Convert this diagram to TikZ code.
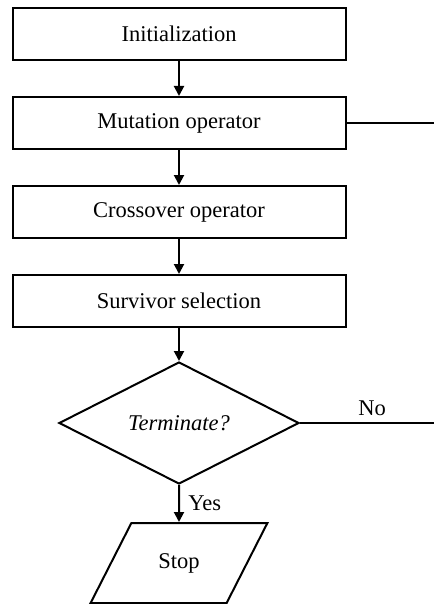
\documentclass[tikz,border=0pt]{standalone}
\usepackage{fontspec}
\setmainfont{Liberation Serif}
\usepackage{tikz}
\usetikzlibrary{arrows.meta,shapes.geometric,positioning}

\begin{document}
\begin{tikzpicture}[
    > = {Triangle[length=10pt,width=10pt]}, % arrow head style
    node distance = 35pt, % distance between nodes
    line width = 2pt, % line style
    font = \fontsize{22.5}{27}\selectfont
    ]

    \tikzset{process/.style={
    draw = black,
    rectangle,
    minimum width = 333pt,
    minimum height = 52pt,
    inner sep = 0pt
    }}
    \tikzset{decision/.style={
    draw = black,
    diamond,
    aspect = 2,
    minimum width = 240pt,
    minimum height = 122pt,
    inner sep = 0pt
    }}
    \tikzset{stopbox/.style={
    draw = black,
    trapezium,
    trapezium left angle = 63,
    trapezium right angle = 117,
    text height = 16pt,
    text depth = 5pt,
    inner xsep = 27pt,
    inner ysep = 29.5pt
    }}

    \useasboundingbox (0,0) rectangle (434pt,-604pt);

    \node[process] (init) at (179pt,-34pt) {Initialization};
    \node[process] (mut) [below=of init] {Mutation operator};
    \node[process] (cross) [below=of mut] {Crossover operator};
    \node[process] (surv) [below=of cross] {Survivor selection};
    \node[decision] (term) [below=33pt of surv] {\textit{Terminate?}};
    \node[stopbox] (stop) [below=37pt of term] {Stop};

    \coordinate (edgeR) at (434pt,0); % right border of the picture

    \path[->] (init) edge (mut);
    \path[->] (mut) edge (cross);
    \path[->] (cross) edge (surv);
    \path[->] (surv) edge (term);
    \path[->] (term) edge node[right=5pt]{Yes} (stop);
    \draw (mut.east) -- (mut.east -| edgeR);
    \draw (term.east) -- node[above=3pt, xshift=5pt]{No} (term.east -| edgeR);
\end{tikzpicture}
\end{document}
